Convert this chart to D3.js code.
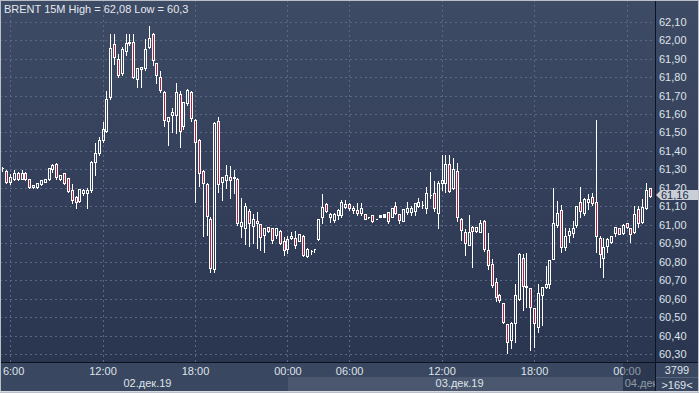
<!DOCTYPE html>
<html>
<head>
<meta charset="utf-8">
<script src="https://cdn.jsdelivr.net/npm/d3@7/dist/d3.min.js"></script>
<style>
  body { margin: 0; background: #2f3b55; }
  svg { display: block; font-family: "Liberation Sans", Arial, sans-serif; }
</style>
</head>
<body>
<div id="chart"></div>
<script>
// BRENT 15M candles (bar 0 = 05:30, 02.12.19)
const open = [
  61.31, 61.29, 61.23, 61.25, 61.28, 61.25, 61.28, 61.25, 61.205, 61.205,
  61.22, 61.23, 61.25, 61.30, 61.33, 61.25, 61.28, 61.255, 61.188, 61.152,
  61.13, 61.17, 61.17, 61.19, 61.34, 61.39, 61.46, 61.51, 61.69, 61.98,
  61.90, 61.82, 61.94, 61.983, 61.992, 61.788, 61.842, 61.848, 61.961, 62.033,
  61.878, 61.80, 61.72, 61.56, 61.595, 61.595, 61.71, 61.535, 61.66, 61.72,
  61.57, 61.46, 61.29, 61.22, 61.03, 60.76, 61.56, 61.23, 61.245, 61.257,
  61.252, 61.25, 60.993, 60.981, 61.077, 60.995, 61.02, 61.004, 60.945, 60.99,
  60.981, 60.945, 60.968, 60.914, 60.867, 60.927, 60.927, 60.914, 60.939, 60.831,
  60.86, 60.867, 60.921, 61.04, 61.11, 61.04, 61.026, 61.053, 61.053, 61.098,
  61.113, 61.08, 61.08, 61.066, 61.058, 61.04, 61.053, 61.031, 61.04, 61.044,
  61.071, 61.04, 61.102, 61.058, 61.02, 61.067, 61.071, 61.076, 61.102, 61.107,
  61.089, 61.161, 61.174, 61.066, 61.228, 61.228, 61.329, 61.197, 61.291, 61.029,
  60.963, 60.891, 60.986, 60.968, 60.963, 61.02, 60.863, 60.79, 60.688, 60.62,
  60.578, 60.461, 60.376, 60.466, 60.596, 60.818, 60.661, 60.659, 60.547, 60.448,
  60.62, 60.665, 60.679, 60.813, 60.999, 61.08, 60.878, 60.945, 60.957, 60.999,
  61.122, 61.062, 61.125, 61.149, 61.125, 60.927, 60.818, 60.885, 60.908, 60.957,
  60.981, 60.957, 61.008, 60.981, 60.963, 61.084, 61.017, 61.089, 61.197
];
const high = [
  61.32, 61.30, 61.28, 61.30, 61.29, 61.30, 61.29, 61.25, 61.215, 61.225,
  61.25, 61.255, 61.31, 61.335, 61.34, 61.275, 61.285, 61.255, 61.226, 61.16,
  61.20, 61.20, 61.207, 61.35, 61.45, 61.48, 61.56, 61.73, 62.04, 62.04,
  61.93, 61.97, 62.04, 62.04, 62.037, 61.857, 61.86, 62.01, 62.08, 62.046,
  61.884, 61.84, 61.73, 61.59, 61.64, 61.775, 61.73, 61.67, 61.74, 61.73,
  61.58, 61.47, 61.30, 61.23, 61.05, 61.56, 61.59, 61.26, 61.33, 61.324,
  61.30, 61.26, 61.15, 61.125, 61.09, 61.062, 61.077, 61.01, 60.985, 60.995,
  60.99, 60.99, 60.975, 60.94, 60.945, 60.968, 60.972, 60.955, 60.95, 60.877,
  60.87, 60.867, 61.03, 61.17, 61.125, 61.07, 61.071, 61.089, 61.138, 61.138,
  61.125, 61.107, 61.123, 61.123, 61.06, 61.042, 61.058, 61.031, 61.044, 61.045,
  61.076, 61.089, 61.131, 61.066, 61.084, 61.129, 61.107, 61.125, 61.152, 61.134,
  61.212, 61.293, 61.243, 61.243, 61.382, 61.382, 61.382, 61.369, 61.342, 61.044,
  60.981, 61.058, 60.999, 60.99, 61.029, 61.029, 60.963, 60.82, 60.719, 60.632,
  60.58, 60.466, 60.481, 60.683, 60.854, 60.845, 60.854, 60.665, 60.55, 60.683,
  60.665, 60.782, 60.809, 61.206, 61.134, 61.111, 60.99, 60.986, 61.026, 61.107,
  61.21, 61.152, 61.17, 61.179, 61.571, 60.945, 60.936, 60.936, 60.94, 60.993,
  60.99, 61.011, 61.017, 60.986, 61.107, 61.107, 61.143, 61.233, 61.206
];
const low = [
  61.29, 61.225, 61.22, 61.24, 61.24, 61.25, 61.24, 61.20, 61.20, 61.20,
  61.215, 61.23, 61.245, 61.285, 61.25, 61.245, 61.22, 61.175, 61.118, 61.09,
  61.125, 61.16, 61.09, 61.18, 61.27, 61.38, 61.45, 61.50, 61.68, 61.87,
  61.80, 61.81, 61.92, 61.975, 61.793, 61.748, 61.748, 61.838, 61.956, 61.866,
  61.766, 61.72, 61.535, 61.43, 61.50, 61.495, 61.42, 61.52, 61.65, 61.56,
  61.125, 61.21, 60.94, 60.945, 60.745, 60.745, 61.18, 61.135, 61.20, 61.143,
  61.17, 61.00, 60.936, 60.896, 60.887, 60.90, 60.872, 60.863, 60.85, 60.96,
  60.90, 60.93, 60.895, 60.836, 60.845, 60.921, 60.876, 60.91, 60.83, 60.824,
  60.842, 60.85, 60.92, 61.01, 61.07, 61.017, 61.017, 61.03, 61.044, 61.093,
  61.08, 61.066, 61.053, 61.053, 61.029, 61.038, 61.017, 61.03, 61.04, 61.044,
  61.008, 61.04, 61.058, 61.008, 61.02, 61.058, 61.053, 61.053, 61.098, 61.089,
  61.066, 61.143, 61.076, 60.981, 61.188, 61.179, 61.179, 61.192, 61.022, 60.918,
  60.836, 60.891, 60.773, 60.96, 60.96, 60.86, 60.759, 60.665, 60.589, 60.583,
  60.47, 60.304, 60.331, 60.367, 60.59, 60.538, 60.556, 60.322, 60.34, 60.42,
  60.457, 60.656, 60.656, 60.813, 60.99, 60.854, 60.863, 60.908, 60.936, 60.99,
  61.044, 61.053, 61.084, 61.107, 60.854, 60.769, 60.719, 60.854, 60.90, 60.939,
  60.95, 60.95, 60.981, 60.908, 60.957, 60.986, 61.008, 61.084, 61.152
];
const close = [
  61.31, 61.23, 61.26, 61.28, 61.25, 61.28, 61.25, 61.205, 61.215, 61.225,
  61.24, 61.25, 61.31, 61.325, 61.26, 61.27, 61.225, 61.185, 61.134, 61.125,
  61.192, 61.188, 61.19, 61.34, 61.39, 61.46, 61.52, 61.68, 61.96, 61.91,
  61.81, 61.95, 61.985, 61.99, 61.802, 61.848, 61.857, 61.95, 62.01, 61.893,
  61.811, 61.73, 61.57, 61.585, 61.61, 61.72, 61.51, 61.665, 61.73, 61.58,
  61.45, 61.28, 61.225, 61.05, 60.765, 61.55, 61.22, 61.26, 61.27, 61.24,
  61.26, 61.008, 61.017, 61.10, 61.008, 61.03, 61.008, 60.936, 60.981, 60.968,
  60.918, 60.981, 60.903, 60.863, 60.921, 60.939, 60.891, 60.95, 60.836, 60.867,
  60.86, 60.867, 61.03, 61.098, 61.076, 61.058, 61.058, 61.08, 61.122, 61.111,
  61.089, 61.089, 61.066, 61.089, 61.029, 61.04, 61.02, 61.031, 61.053, 61.058,
  61.02, 61.089, 61.066, 61.026, 61.084, 61.093, 61.089, 61.116, 61.125, 61.107,
  61.174, 61.161, 61.089, 61.224, 61.243, 61.327, 61.185, 61.30, 61.04, 60.972,
  60.90, 60.963, 60.968, 60.986, 61.011, 60.867, 60.782, 60.674, 60.607, 60.592,
  60.475, 60.367, 60.466, 60.62, 60.842, 60.668, 60.668, 60.556, 60.466, 60.629,
  60.665, 60.677, 60.809, 61.008, 61.066, 60.881, 60.939, 60.968, 60.981, 61.102,
  61.076, 61.138, 61.138, 61.12, 60.939, 60.842, 60.878, 60.921, 60.939, 60.99,
  60.95, 60.999, 60.99, 60.948, 61.058, 61.008, 61.098, 61.188, 61.156
];

const priceTicks = [60.3, 60.4, 60.5, 60.6, 60.7, 60.8, 60.9, 61.0, 61.1, 61.2,
  61.3, 61.4, 61.5, 61.6, 61.7, 61.8, 61.9, 62.0, 62.1];
const timeTickBars = [2, 26, 50, 74, 90, 114, 138, 162];
const timeTickLabels = ['06:00', '12:00', '18:00', '00:00', '06:00', '12:00', '18:00', '00:00'];
const dayStartBars = [0, 74, 162];
const dayLabels = ['02.дек.19', '03.дек.19', '04.дек.'];
const lastPrice = 61.16;
const titleText = 'BRENT 15M High = 62,08 Low = 60,3';
const barsCount = '3799';
const visibleBars = '>169<';

const W = 699, H = 393;
const plotR = 655, plotB = 362;
const bars = d3.range(open.length);
const candles = bars.map(i => ({i, o: open[i], h: high[i], l: low[i], c: close[i]}));

const svg = d3.select('#chart').append('svg')
  .attr('width', W).attr('height', H);

const defs = svg.append('defs');
const bg = defs.append('linearGradient').attr('id', 'bg')
  .attr('x1', 0).attr('y1', 0).attr('x2', 0).attr('y2', 1);
bg.append('stop').attr('offset', 0).attr('stop-color', '#3e4b65');
bg.append('stop').attr('offset', 1).attr('stop-color', '#2a3550');
defs.append('clipPath').attr('id', 'plotClip')
  .append('rect').attr('x', 2).attr('y', 0).attr('width', plotR - 2).attr('height', plotB);
defs.append('clipPath').attr('id', 'axisClip')
  .append('rect').attr('x', 3).attr('y', plotB).attr('width', plotR - 3).attr('height', H - plotB);

// backgrounds
svg.append('rect').attr('width', W).attr('height', plotB).attr('fill', 'url(#bg)');
svg.append('rect').attr('y', plotB).attr('width', W).attr('height', H - plotB).attr('fill', '#3a4760');
svg.append('rect').attr('x', 288).attr('y', 377).attr('width', 335).attr('height', 14).attr('fill', '#4a576f');

const x = d3.scaleBand().domain(bars).range([0.9, 652.1]).padding(0);
const cx = i => x(i) + x.bandwidth() / 2;
const y = d3.scaleLinear().domain([60.3, 62.1]).range([354, 21.7]);
const fmt = v => d3.format('.2f')(v).replace('.', ',');

// grid
const grid = svg.append('g').attr('stroke', '#5b6883').attr('stroke-dasharray', '2,3')
  .attr('shape-rendering', 'crispEdges');
grid.selectAll('.hg').data(priceTicks).join('line')
  .attr('x1', 0).attr('x2', plotR)
  .attr('y1', d => Math.round(y(d)) + 0.5).attr('y2', d => Math.round(y(d)) + 0.5);
grid.selectAll('.vg').data(timeTickBars).join('line')
  .attr('x1', d => Math.floor(cx(d)) + 0.5).attr('x2', d => Math.floor(cx(d)) + 0.5)
  .attr('y1', 0).attr('y2', plotB);

// candles
const cg = svg.append('g').attr('clip-path', 'url(#plotClip)')
  .attr('stroke', '#ffffff').attr('stroke-width', 1).attr('shape-rendering', 'crispEdges');
const px = v => Math.round(y(v)) + 0.5;
cg.selectAll('.wick').data(candles).join('path')
  .attr('fill', 'none')
  .attr('d', d => {
    const xx = Math.floor(cx(d.i)) + 0.5;
    const top = px(Math.max(d.o, d.c)), bot = px(Math.min(d.o, d.c));
    return `M${xx},${px(d.h)}V${top}M${xx},${bot}V${px(d.l)}`;
  });
cg.selectAll('.body').data(candles).join('path')
  .attr('fill', d => d.c < d.o ? '#b0213f' : 'none')
  .attr('d', d => {
    const xx = Math.floor(cx(d.i)) - 0.5;
    const top = px(Math.max(d.o, d.c)), bot = px(Math.min(d.o, d.c));
    return `M${xx},${top}h2V${bot}h-2Z`;
  });

// title
svg.append('text').attr('x', 4).attr('y', 13).attr('fill', '#e4e8ef')
  .attr('font-size', 11).text(titleText);

// frame lines
svg.append('line').attr('x1', 0).attr('x2', W).attr('y1', plotB + 0.5).attr('y2', plotB + 0.5)
  .attr('stroke', '#0d1220');
svg.append('line').attr('x1', plotR + 0.5).attr('x2', plotR + 0.5).attr('y1', 0).attr('y2', H)
  .attr('stroke', '#0d1220');

// right price axis
const ya = svg.append('g').attr('transform', `translate(${plotR + 1},0)`)
  .call(d3.axisRight(y).tickValues(priceTicks).tickFormat(fmt).tickSize(0).tickPadding(3));
ya.select('.domain').remove();
ya.selectAll('text').attr('fill', '#dfe3ea').attr('font-size', 11)
  .attr('font-family', '"Liberation Sans", Arial, sans-serif');

// last price marker
const ly = Math.round(y(lastPrice));
svg.append('path')
  .attr('d', `M${plotR + 1},${ly}L${plotR + 6},${ly - 5}H${W}V${ly + 5}H${plotR + 6}Z`)
  .attr('fill', '#c9ced7');
svg.append('text').attr('x', plotR + 6).attr('y', ly).attr('dy', '0.35em')
  .attr('fill', '#1d2b48').attr('font-size', 11).text(fmt(lastPrice));

// bottom time axis
const xa = svg.append('g').attr('clip-path', 'url(#axisClip)');
xa.selectAll('.tl').data(timeTickBars).join('text')
  .attr('x', d => cx(d)).attr('y', 371).attr('dy', '0.35em').attr('text-anchor', 'middle')
  .attr('fill', '#dfe3ea').attr('font-size', 11)
  .text((d, k) => timeTickLabels[k]);
xa.selectAll('.dl').data(dayStartBars).join('text')
  .attr('x', (d, k) => {
    const end = k + 1 < dayStartBars.length ? dayStartBars[k + 1] - 1 : open.length - 1;
    return (cx(d) + cx(end)) / 2 + 4;
  })
  .attr('y', 383).attr('dy', '0.35em').attr('text-anchor', 'middle')
  .attr('fill', '#dfe3ea').attr('font-size', 11)
  .text((d, k) => dayLabels[k]);
svg.append('rect').attr('x', 623).attr('y', plotB + 1).attr('width', plotR - 623).attr('height', H - plotB - 3)
  .attr('fill', '#1a2338').attr('opacity', 0.4);

// corner box
svg.append('line').attr('x1', plotR + 1).attr('x2', W).attr('y1', 377.5).attr('y2', 377.5)
  .attr('stroke', '#56637c');
svg.append('text').attr('x', 677).attr('y', 370).attr('dy', '0.35em').attr('text-anchor', 'middle')
  .attr('fill', '#dfe3ea').attr('font-size', 11).text(barsCount);
svg.append('text').attr('x', 677).attr('y', 385).attr('dy', '0.35em').attr('text-anchor', 'middle')
  .attr('fill', '#dfe3ea').attr('font-size', 11).text(visibleBars);

// outer bevel
svg.append('rect').attr('x', 0.5).attr('y', 0.5).attr('width', W - 1).attr('height', H - 1)
  .attr('fill', 'none').attr('stroke', '#b9bec8');
svg.append('line').attr('x1', 0).attr('x2', W).attr('y1', H - 1.5).attr('y2', H - 1.5)
  .attr('stroke', '#d5d9e0');
</script>
</body>
</html>
